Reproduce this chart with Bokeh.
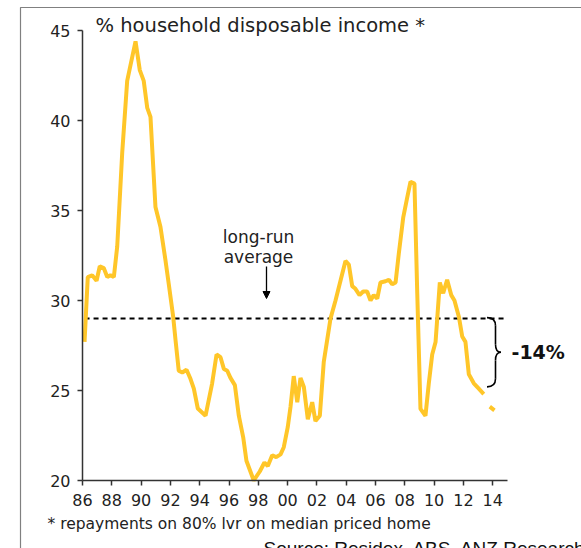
from bokeh.plotting import figure
from bokeh.models import Label, Arrow, NormalHead, FixedTicker, Range1d
from bokeh.embed import file_html
from bokeh.resources import INLINE

# ---- data ----
year = [1986.14, 1986.36, 1986.66, 1986.96, 1987.18, 1987.45, 1987.69, 1987.91, 1988.14, 1988.37,
        1988.71, 1989.05, 1989.62, 1989.91, 1990.18, 1990.42, 1990.64, 1990.98, 1991.32, 1991.67,
        1991.89, 1992.19, 1992.35, 1992.57, 1992.81, 1993.10, 1993.37, 1993.60, 1993.87, 1994.40,
        1994.85, 1995.15, 1995.42, 1995.65, 1995.88, 1996.10, 1996.40, 1996.67, 1996.97, 1997.19,
        1997.69, 1998.10, 1998.42, 1998.65, 1998.95, 1999.22, 1999.52, 1999.74, 2000.01, 2000.20,
        2000.42, 2000.66, 2000.88, 2001.11, 2001.38, 2001.68, 2001.90, 2002.20, 2002.47, 2002.70,
        2002.93, 2003.27, 2003.61, 2003.95, 2004.18, 2004.41, 2004.63, 2004.91, 2005.16, 2005.43,
        2005.66, 2005.88, 2006.12, 2006.34, 2006.68, 2006.91, 2007.14, 2007.37, 2007.59, 2007.89,
        2008.16, 2008.39, 2008.66, 2008.85, 2009.07, 2009.41, 2009.64, 2009.87, 2010.10, 2010.39,
        2010.62, 2010.89, 2011.17, 2011.39, 2011.69, 2011.92, 2012.14, 2012.37, 2012.71, 2013.05,
        2013.39, 2013.60, 2013.80, 2014.12]
repay_pct = [27.7, 31.3, 31.4, 31.1, 31.9, 31.8, 31.3, 31.4, 31.3, 33.0,
             38.2, 42.2, 44.4, 42.8, 42.2, 40.7, 40.2, 35.2, 34.1, 32.2,
             30.9, 29.1, 27.8, 26.1, 26.0, 26.15, 25.65, 25.1, 24.0, 23.6,
             25.4, 27.0, 26.85, 26.2, 26.1, 25.7, 25.3, 23.6, 22.4, 21.1,
             20.0, 20.5, 21.0, 20.8, 21.4, 21.3, 21.45, 21.85, 22.96, 24.1,
             25.8, 24.35, 25.7, 25.2, 23.4, 24.35, 23.3, 23.6, 26.6, 27.8,
             29.0, 30.0, 31.1, 32.2, 32.0, 30.8, 30.65, 30.3, 30.5, 30.5,
             30.0, 30.3, 30.1, 31.0, 31.07, 31.15, 30.9, 31.0, 32.6, 34.6,
             35.7, 36.6, 36.5, 30.4, 23.98, 23.6, 25.4, 27.0, 27.7, 31.0,
             30.4, 31.15, 30.3, 30.0, 29.1, 28.0, 27.7, 25.9, 25.4, 25.1,
             24.8, float("nan"), 24.1, 23.9]
long_run_avg = 29.0
avg_span = [1986.14, 2014.87]
latest_before_gap = 25.2
change_label = "-14%"
tick_years = [1986, 1988, 1990, 1992, 1994, 1996, 1998, 2000, 2002, 2004, 2006, 2008, 2010, 2012, 2014]
tick_labels = ["86", "88", "90", "92", "94", "96", "98", "00", "02", "04", "06", "08", "10", "12", "14"]
y_ticks = [20, 25, 30, 35, 40, 45]
x_axis_bounds = (1986, 2015)
y_axis_bounds = (20, 45)

FONT = "DejaVu Sans"
W, H = 581, 548

# geometry of the axes box on the canvas (pixels)
AX_L, AX_T = 82, 30
PX_PER_YEAR, PX_PER_UNIT = 14.65, 18.0


def px_x(px):
    return x_axis_bounds[0] + (px - AX_L) / PX_PER_YEAR


def px_y(py):
    return y_axis_bounds[1] - (py - AX_T) / PX_PER_UNIT


p = figure(width=W, height=H, output_backend="svg", toolbar_location=None,
           x_range=Range1d(px_x(0), px_x(W)), y_range=Range1d(px_y(H), px_y(0)),
           min_border=0)
p.outline_line_color = None
p.grid.visible = False
p.background_fill_color = "white"
p.border_fill_color = "white"

for ax in (p.xaxis[0], p.yaxis[0]):
    ax.axis_line_color = "#333333"
    ax.axis_line_width = 1.5
    ax.major_tick_line_color = "#333333"
    ax.major_tick_line_width = 1.5
    ax.major_tick_out = 5
    ax.major_tick_in = 0
    ax.minor_tick_line_color = None
    ax.major_label_text_font = FONT
    ax.major_label_text_font_size = "16px"
    ax.major_label_text_color = "#222222"

p.xaxis.ticker = FixedTicker(ticks=tick_years)
p.xaxis.major_label_overrides = {y: l for y, l in zip(tick_years, tick_labels)}
p.xaxis.major_label_standoff = 8
p.xaxis.fixed_location = y_axis_bounds[0]
p.xaxis.bounds = x_axis_bounds
p.yaxis.ticker = FixedTicker(ticks=y_ticks)
p.yaxis.major_label_standoff = 7
p.yaxis.fixed_location = x_axis_bounds[0]
p.yaxis.bounds = y_axis_bounds

# outer frame lines (left and top)
fx, fy = px_x(20), px_y(7)
p.line([fx, fx, px_x(W + 5)], [px_y(H + 5), fy, fy], line_color="#808080", line_width=1.2)

# long-run average dashed line
p.line(avg_span, [long_run_avg, long_run_avg], line_color="black", line_width=1.8, line_dash="5 4")

# main series
p.line(year, repay_pct, line_color="#FFC629", line_width=4)

# bracket
x0, x1, xt = px_x(486.5), px_x(495), px_x(500.5)
top, bot = long_run_avg + 0.05, latest_before_gap
mid = (top + bot) / 2
r = 0.45
bk = dict(line_color="black", line_width=1.6)
p.quadratic(x0=[x0], y0=[top], x1=[x1], y1=[top - r], cx=[x1], cy=[top], **bk)
p.line([x1, x1], [top - r, mid + r], **bk)
p.quadratic(x0=[x1], y0=[mid + r], x1=[xt], y1=[mid], cx=[x1], cy=[mid], **bk)
p.quadratic(x0=[xt], y0=[mid], x1=[x1], y1=[mid - r], cx=[x1], cy=[mid], **bk)
p.line([x1, x1], [mid - r, bot + r], **bk)
p.quadratic(x0=[x1], y0=[bot + r], x1=[x0], y1=[bot], cx=[x1], cy=[bot], **bk)

p.add_layout(Label(x=px_x(511), y=mid, text=change_label, text_font=FONT, text_font_style="bold",
                   text_font_size="19px", text_baseline="middle", text_color="#111111"))

# long-run average annotation
p.add_layout(Label(x=px_x(258), y=px_y(236), text="long-run", text_font=FONT, text_font_size="17px",
                   text_align="center", text_baseline="middle", text_color="#222222"))
p.add_layout(Label(x=px_x(258), y=px_y(256), text="average", text_font=FONT, text_font_size="17px",
                   text_align="center", text_baseline="middle", text_color="#222222"))
p.add_layout(Arrow(x_start=px_x(266), y_start=px_y(266), x_end=px_x(266), y_end=px_y(298),
                   line_color="black", line_width=1.3,
                   end=NormalHead(size=7, fill_color="black", line_color="black")))

# title / notes
p.add_layout(Label(x=px_x(95), y=px_y(25), text="% household disposable income *", text_font=FONT,
                   text_font_size="19.5px", text_baseline="middle", text_color="#222222"))
p.add_layout(Label(x=px_x(47), y=px_y(523), text="* repayments on 80% lvr on median priced home",
                   text_font=FONT, text_font_size="15.5px", text_baseline="middle", text_color="#222222"))
p.add_layout(Label(x=px_x(263), y=px_y(537), text="Source: Residex, ABS, ANZ Research",
                   text_font="Liberation Sans", text_font_size="19px", text_baseline="top",
                   text_color="#111111"))

open("out.html", "w").write(file_html(p, INLINE))
